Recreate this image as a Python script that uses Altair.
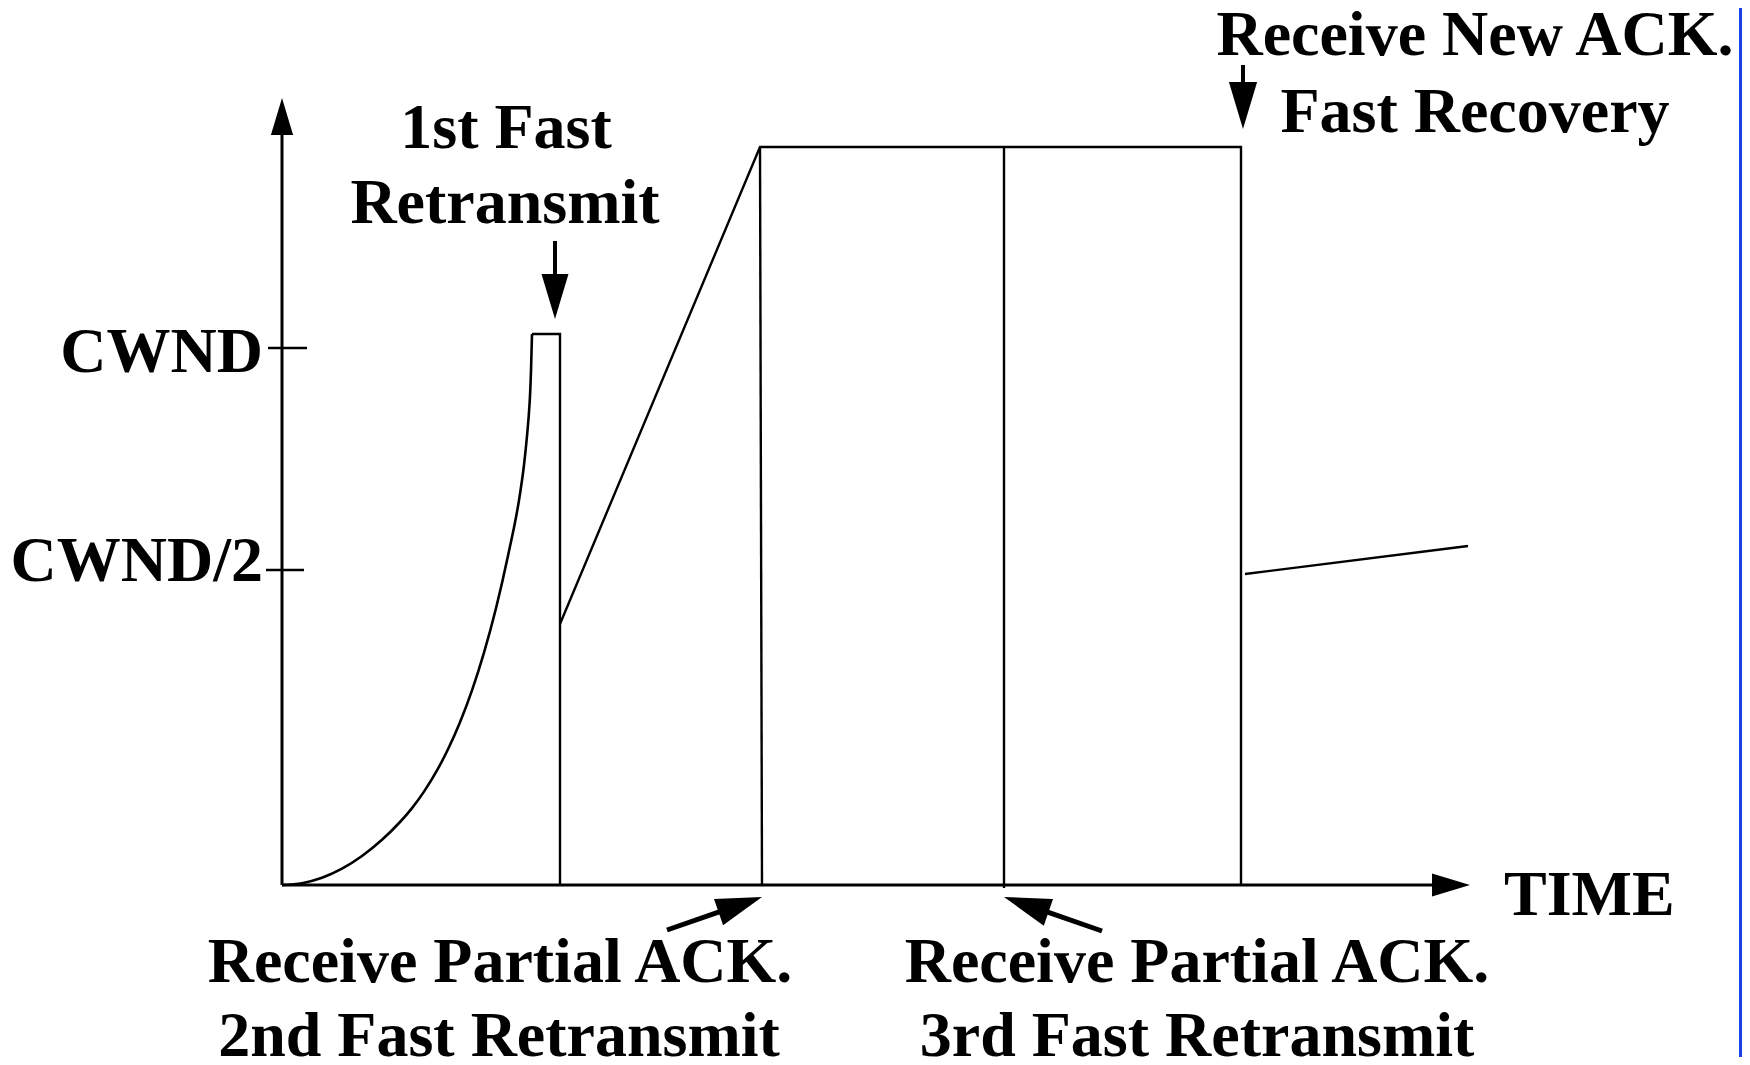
import math
import altair as alt
import pandas as pd

# Plot area (px) and the data window it shows: time units to the right, cwnd units up
W, H = 1734, 1049
T_DOMAIN = [-274, 1460]
C_DOMAIN = [-172, 877]

# Slow-start curve (time, cwnd)
curve_t = [0, 20, 40, 60, 80, 100, 118, 130, 142, 154, 166, 178, 190, 202,
           214, 226, 238, 242, 245, 247, 248, 249, 250]
curve_c = [0, 1.8, 7.2, 16.3, 29, 45.2, 63, 76.9, 93.4, 112.8, 135.7, 162.8,
           194.7, 232.4, 276.8, 329.2, 391.1, 420, 449, 473, 489, 514, 551]

# Straight parts of the window trace
path_id = ["peak", "peak", "peak",
           "recover", "recover", "recover", "recover",
           "retx2", "retx2", "retx3", "retx3", "after", "after"]
path_t = [250, 278, 278, 278, 478, 959, 959, 478, 480, 722, 722, 963, 1186]
path_c = [551, 551, 0, 261, 738, 738, 0, 738, 0, 738, -3, 311, 339]

# Y-axis ticks
tick_label = ["CWND", "CWND/2"]
tick_c = [537, 315]
tick_t0 = [-14, -16]
tick_t1 = [25, 22]

# Arrows (axes and annotations): tail -> tip
arrow_t0 = [0, 0, 273, 961, 385, 820]
arrow_c0 = [0, 0, 644, 820, -45, -46]
arrow_t1 = [0, 1188, 273, 961, 480, 722]
arrow_c1 = [787, 0, 566, 756, -12, -12]
arrow_head = [37, 38, 45, 47, 46, 47]
arrow_width = [3, 3, 4, 4, 5, 5]

# Labels
center_text = ["1st Fast", "Retransmit", "Receive New ACK.", "Fast Recovery",
               "Receive Partial ACK.", "2nd Fast Retransmit",
               "Receive Partial ACK.", "3rd Fast Retransmit"]
center_t = [224, 223, 1193, 1193, 218, 217, 915, 915]
center_c = [737, 662, 830, 753, -97, -171, -97, -171]
right_text = tick_label
right_t = [-19, -19]
right_c = [513, 304]
left_text = ["TIME"]
left_t = [1222]
left_c = [-30]

FONT = "Liberation Serif"
FS = 64

xs = alt.Scale(domain=T_DOMAIN, nice=False, zero=False)
ys = alt.Scale(domain=C_DOMAIN, nice=False, zero=False)


def X(f="t"):
    return alt.X(f"{f}:Q", scale=xs, axis=None)


def Y(f="c"):
    return alt.Y(f"{f}:Q", scale=ys, axis=None)


curve_df = pd.DataFrame({"t": curve_t, "c": curve_c})
path_df = pd.DataFrame({"id": path_id, "t": path_t, "c": path_c,
                        "ord": list(range(len(path_t)))})
tick_df = pd.DataFrame({"t": tick_t0, "t2": tick_t1, "c": tick_c})

shafts, heads = [], []
for t0, c0, t1, c1, hl, sw in zip(arrow_t0, arrow_c0, arrow_t1, arrow_c1,
                                  arrow_head, arrow_width):
    dt, dc = t1 - t0, c1 - c0
    L = math.hypot(dt, dc)
    ut, uc = dt / L, dc / L
    back = hl - 3
    shafts.append({"t": t0, "c": c0, "t2": t1 - back * ut, "c2": c1 - back * uc, "w": sw})
    ang = math.degrees(math.atan2(dt, dc)) % 360
    heads.append({"t": t1, "c": c1, "angle": ang, "size": hl * hl})
shaft_df = pd.DataFrame(shafts)
head_df = pd.DataFrame(heads)

curve = alt.Chart(curve_df).mark_line(
    color="black", strokeWidth=2.6, interpolate="monotone"
).encode(x=X(), y=Y())

paths = alt.Chart(path_df).mark_line(
    color="black", strokeWidth=2.4, strokeJoin="miter"
).encode(x=X(), y=Y(), detail="id:N", order="ord:Q")

ticks = alt.Chart(tick_df).mark_rule(color="black", strokeWidth=2.4).encode(
    x=X(), x2="t2:Q", y=Y()
)

arrow_shafts = alt.Chart(shaft_df).mark_rule(color="black").encode(
    x=X(), y=Y(), x2="t2:Q", y2="c2:Q",
    strokeWidth=alt.StrokeWidth("w:Q", scale=None),
)

arrow_heads = alt.Chart(head_df).mark_point(
    shape="M0,0L0.6,2L-0.6,2Z", filled=True, color="black",
    opacity=1, strokeWidth=0,
).encode(
    x=X(), y=Y(),
    angle=alt.Angle("angle:Q", scale=None),
    size=alt.Size("size:Q", scale=None),
)


def text_layer(texts, ts, cs, align):
    df = pd.DataFrame({"label": texts, "t": ts, "c": cs})
    return alt.Chart(df).mark_text(
        font=FONT, fontSize=FS, fontWeight="bold", color="black",
        align=align, baseline="alphabetic",
    ).encode(x=X(), y=Y(), text="label:N")


texts = (text_layer(center_text, center_t, center_c, "center")
         + text_layer(right_text, right_t, right_c, "right")
         + text_layer(left_text, left_t, left_c, "left"))

edge = alt.Chart(pd.DataFrame({"k": [0]})).mark_rule(
    color="#1a40e8", strokeWidth=3
).encode(x=alt.value(W - 1.5), y=alt.value(0), y2=alt.value(H))

chart = alt.layer(
    curve, paths, ticks, arrow_shafts, arrow_heads, texts, edge
).properties(
    width=W, height=H, padding=0, autosize=alt.AutoSizeParams(type="none"),
    background="white",
).configure_view(strokeWidth=0)

chart.save("out.html", embed_options={"renderer": "svg", "actions": False})
